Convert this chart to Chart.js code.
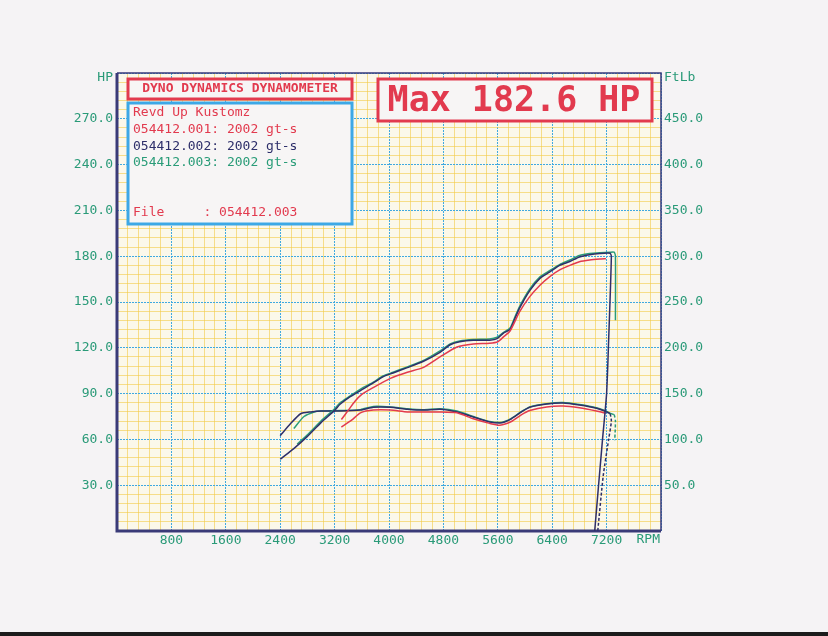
<!DOCTYPE html>
<html>
<head>
<meta charset="utf-8">
<script src="https://cdn.jsdelivr.net/npm/chart.js@4"></script>
<style>
    body { margin: 0; background: #f5f3f5; }
    #wrap { width: 828px; height: 636px; position: relative; }
</style>
</head>
<body>
<div id="wrap"><canvas id="dyno-chart"></canvas></div>
<script>
// tick labels
const rpmTicks = [800, 1600, 2400, 3200, 4000, 4800, 5600, 6400, 7200];
const hpTicks = [30, 60, 90, 120, 150, 180, 210, 240, 270];
const tqTicks = [50, 100, 150, 200, 250, 300, 350, 400, 450];

// run 001 (red)
const run1Power = [[3300, 73], [3400, 79], [3500, 85], [3600, 89.5], [3770, 94], [4020, 100], [4270, 104], [4500, 107], [4750, 114], [5000, 120.5], [5240, 122.5], [5480, 123], [5600, 124], [5680, 127], [5780, 131], [5920, 143.5], [6070, 153.5], [6220, 161], [6360, 166.5], [6510, 171], [6660, 174], [6800, 176.4], [6950, 177.5], [7100, 178.1], [7190, 178.3]];
const run1Torque = [[3300, 113.5], [3450, 121], [3580, 129], [3770, 132], [4020, 132], [4270, 130], [4500, 130], [4750, 130], [5000, 129], [5240, 122.5], [5480, 117.5], [5630, 115.5], [5800, 119.5], [5950, 127], [6070, 131.5], [6320, 135.5], [6560, 136.5], [6800, 134.5], [7050, 131], [7190, 128.5]];

// run 002 (navy)
const run2Power = [[2400, 47], [2600, 54], [2800, 62], [3000, 71], [3200, 79], [3280, 83], [3430, 88], [3580, 92], [3770, 97], [3910, 101], [4060, 103.5], [4270, 107], [4500, 111], [4750, 117], [4900, 122], [5040, 124], [5240, 125], [5480, 125], [5590, 126], [5680, 129.5], [5780, 132], [5850, 139], [5920, 146], [6070, 157.5], [6220, 165.5], [6360, 169.5], [6510, 174], [6660, 176.5], [6800, 179.5], [6950, 181], [7100, 181.8], [7250, 182], [7270, 180], [7230, 125], [7200, 90], [7140, 60], [7080, 29], [7025, 0]];
const run2Torque = [[2400, 104], [2550, 117], [2700, 128], [2850, 130], [3000, 131], [3280, 131], [3580, 132], [3770, 135], [4020, 135], [4270, 133], [4500, 132], [4750, 133], [5000, 130], [5240, 124.5], [5480, 119], [5630, 118], [5700, 119], [5800, 122.5], [5950, 130], [6070, 135], [6320, 138.6], [6560, 139.7], [6800, 137.5], [7050, 134], [7200, 130], [7250, 128], [7270, 120], [7230, 100], [7150, 60], [7070, 0]];

// run 003 (teal)
const run3Power = [[2650, 57], [2800, 63], [3000, 72], [3200, 80], [3280, 84], [3430, 88.5], [3580, 93], [3770, 97.5], [3910, 101.5], [4060, 104], [4270, 107.5], [4500, 111.5], [4750, 118], [4900, 122.5], [5040, 124.5], [5240, 125.5], [5480, 125.8], [5590, 127], [5680, 130], [5780, 133], [5850, 140], [5920, 147], [6070, 158.5], [6220, 166.5], [6360, 170.5], [6510, 174.5], [6660, 177.5], [6800, 180.5], [6950, 181.8], [7100, 182.3], [7250, 182.6], [7310, 182.6], [7330, 180], [7330, 138]];
const run3Torque = [[2600, 112], [2750, 125], [2900, 130], [3000, 131], [3280, 131.5], [3580, 132.5], [3770, 136], [4020, 135.5], [4270, 133.5], [4500, 132.5], [4750, 133.5], [5000, 131], [5240, 125], [5480, 119.5], [5630, 118.5], [5700, 119.5], [5800, 123], [5950, 130.5], [6070, 135.5], [6320, 139], [6560, 140.2], [6800, 138], [7050, 134.5], [7200, 130.5], [7250, 128.5], [7310, 127], [7330, 120], [7320, 99]];

const RED = "#e23a4e";
const NAVY = "#2e2f6a";
const TEAL = "#2a9c78";
const AXIS_TEXT = "#2a9a78";
const MONO = '"DejaVu Sans Mono", "Liberation Mono", monospace';

function pts(arr) {
    return arr.map((p) => ({ x: p[0], y: p[1] }));
}

function makeSet(label, arr, color, axis) {
    return {
        label: label,
        data: pts(arr),
        borderColor: color,
        borderWidth: 1.5,
        pointRadius: 0,
        tension: 0.2,
        yAxisID: axis,
        segment: {
            // torque rundown drawn dashed
            borderDash: (c) => {
                if (axis !== "y1") return undefined;
                const dx = c.p1.parsed.x - c.p0.parsed.x;
                const dy = c.p0.parsed.y - c.p1.parsed.y;
                const steep = dx <= 0 || dy / dx > 0.1;
                return steep ? [3, 2] : undefined;
            },
        },
    };
}

// 플롯 배경 + 프레임 + 박스
const dynoDecor = {
    id: "dynoDecor",
    beforeDraw(chart) {
        const { ctx, chartArea } = chart;
        ctx.save();
        ctx.fillStyle = "#f5f3f5";
        ctx.fillRect(0, 0, chart.width, chart.height);
        ctx.fillStyle = "#fbf8ea";
        ctx.fillRect(chartArea.left, chartArea.top, chartArea.right - chartArea.left, chartArea.bottom - chartArea.top);
        ctx.fillStyle = "#1c1c1c";
        ctx.fillRect(0, chart.height - 4, chart.width, 4);
        ctx.restore();
    },
    beforeDatasetsDraw(chart) {
        const { ctx, chartArea } = chart;
        ctx.save();
        ctx.strokeStyle = "#3a3a78";
        ctx.lineWidth = 1.5;
        ctx.beginPath();
        ctx.moveTo(chartArea.left, chartArea.top);
        ctx.lineTo(chartArea.right, chartArea.top);
        ctx.lineTo(chartArea.right, chartArea.bottom);
        ctx.stroke();
        ctx.lineWidth = 3;
        ctx.beginPath();
        ctx.moveTo(chartArea.left, chartArea.top);
        ctx.lineTo(chartArea.left, chartArea.bottom);
        ctx.lineTo(chartArea.right, chartArea.bottom);
        ctx.stroke();
        ctx.restore();
    },
    afterDraw(chart) {
        const { ctx, chartArea } = chart;
        ctx.save();
        ctx.textBaseline = "middle";

        // axis titles
        ctx.fillStyle = AXIS_TEXT;
        ctx.font = "13px " + MONO;
        ctx.textAlign = "right";
        ctx.fillText("HP", chartArea.left - 4, 78);
        ctx.fillText("RPM", chartArea.right - 1, 540);
        ctx.textAlign = "left";
        ctx.fillText("FtLb", chartArea.right + 3, 78);

        // title box
        ctx.fillStyle = "#f7f5f5";
        ctx.fillRect(128, 79, 224, 20);
        ctx.strokeStyle = RED;
        ctx.lineWidth = 3;
        ctx.strokeRect(128, 79, 224, 20);
        ctx.fillStyle = RED;
        ctx.textAlign = "center";
        ctx.font = "bold 13px " + MONO;
        ctx.fillText("DYNO DYNAMICS DYNAMOMETER", 240, 89);

        // run list box
        ctx.fillStyle = "#f7f5f5";
        ctx.fillRect(128, 103, 224, 121);
        ctx.strokeStyle = "#3da8e6";
        ctx.strokeRect(128, 103, 224, 121);
        ctx.textAlign = "left";
        ctx.font = "13px " + MONO;
        ctx.fillStyle = RED;
        ctx.fillText("Revd Up Kustomz", 133, 113);
        ctx.fillText("054412.001: 2002 gt-s", 133, 130);
        ctx.fillStyle = NAVY;
        ctx.fillText("054412.002: 2002 gt-s", 133, 147);
        ctx.fillStyle = TEAL;
        ctx.fillText("054412.003: 2002 gt-s", 133, 163);
        ctx.fillStyle = RED;
        ctx.fillText("File     : 054412.003", 133, 213);

        // max box
        ctx.fillStyle = "#f7f5f5";
        ctx.fillRect(378, 79, 274, 42);
        ctx.strokeStyle = RED;
        ctx.strokeRect(378, 79, 274, 42);
        ctx.fillStyle = RED;
        ctx.textAlign = "center";
        ctx.font = "bold 35px " + MONO;
        ctx.fillText("Max 182.6 HP", 514, 102);
        ctx.restore();
    },
};

const isMajorX = (v) => v % 800 === 0;
const isMajorY = (v) => v % 30 === 0;

new Chart(document.getElementById("dyno-chart"), {
    type: "line",
    data: {
        datasets: [
            makeSet("054412.001 HP", run1Power, RED, "y"),
            makeSet("054412.002 HP", run2Power, NAVY, "y"),
            makeSet("054412.003 HP", run3Power, TEAL, "y"),
            makeSet("054412.001 TQ", run1Torque, RED, "y1"),
            makeSet("054412.002 TQ", run2Torque, NAVY, "y1"),
            makeSet("054412.003 TQ", run3Torque, TEAL, "y1"),
        ],
    },
    options: {
        responsive: true,
        maintainAspectRatio: false,
        animation: false,
        layout: { padding: { top: 73, left: 0, right: 0, bottom: 0 } },
        plugins: {
            legend: { display: false },
            tooltip: { enabled: false },
        },
        scales: {
            x: {
                type: "linear",
                min: 0,
                max: 8000,
                ticks: {
                    stepSize: 160,
                    autoSkip: false,
                    maxRotation: 0,
                    padding: 2,
                    color: AXIS_TEXT,
                    font: { family: MONO, size: 13 },
                    callback: (v) => (rpmTicks.includes(v) ? String(v) : ""),
                },
                grid: {
                    drawTicks: false,
                    lineWidth: 1,
                    color: (c) => (isMajorX(c.tick.value) ? "#3fa9e0" : "rgba(244, 204, 70, 0.6)"),
                },
                border: { display: false, dash: (c) => (c.tick && isMajorX(c.tick.value) ? [2, 1] : []) },
                afterFit: (s) => { s.height = 105; },
            },
            y: {
                position: "left",
                min: 0,
                max: 300,
                ticks: {
                    stepSize: 6,
                    autoSkip: false,
                    padding: 4,
                    color: AXIS_TEXT,
                    font: { family: MONO, size: 13 },
                    callback: (v) => (hpTicks.includes(v) ? v.toFixed(1) : ""),
                },
                grid: {
                    drawTicks: false,
                    lineWidth: 1,
                    color: (c) => (isMajorY(c.tick.value) ? "#3fa9e0" : "rgba(244, 204, 70, 0.6)"),
                },
                border: { display: false, dash: (c) => (c.tick && isMajorY(c.tick.value) ? [2, 1] : []) },
                afterFit: (s) => { s.width = 117; },
            },
            y1: {
                position: "right",
                min: 0,
                max: 500,
                ticks: {
                    stepSize: 50,
                    padding: 3,
                    color: AXIS_TEXT,
                    font: { family: MONO, size: 13 },
                    callback: (v) => (tqTicks.includes(v) ? v.toFixed(1) : ""),
                },
                grid: { display: false, drawTicks: false },
                border: { display: false },
                afterFit: (s) => { s.width = 167; },
            },
        },
    },
    plugins: [dynoDecor],
});
</script>
</body>
</html>
